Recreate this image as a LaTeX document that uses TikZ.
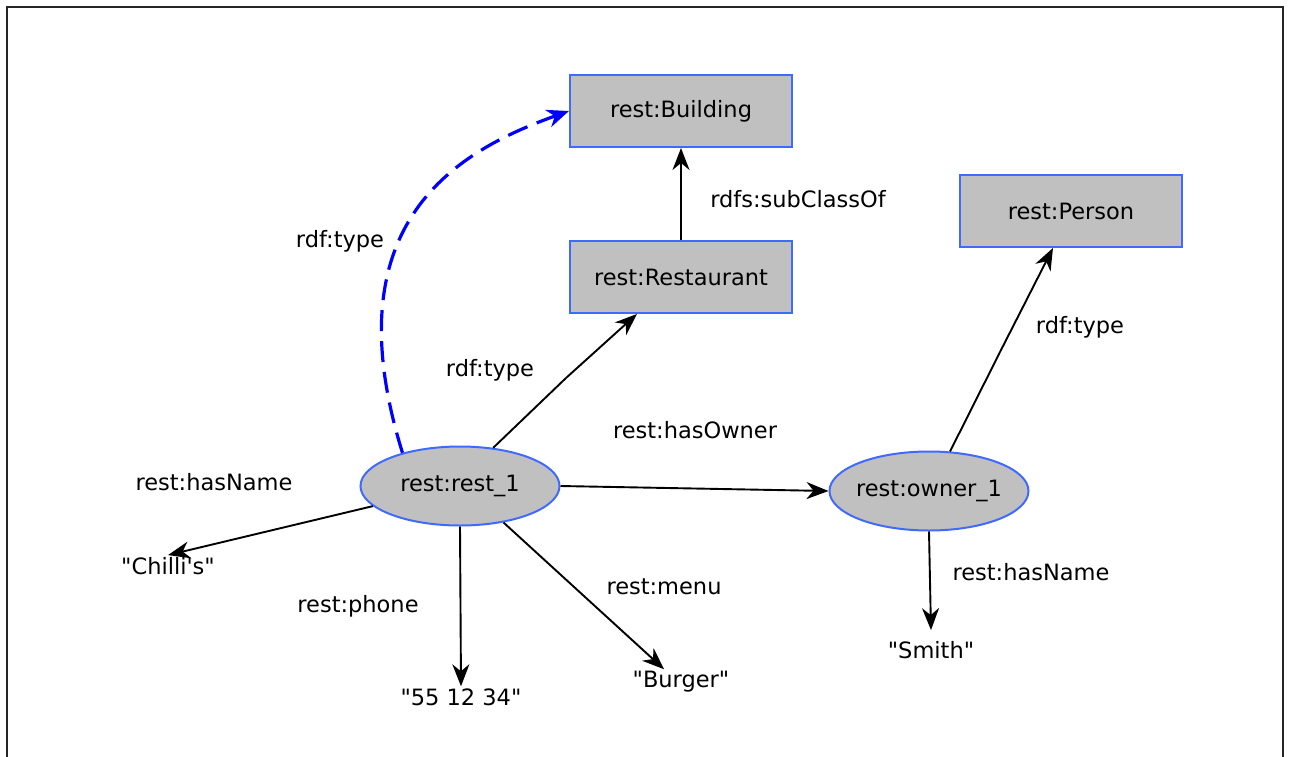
\documentclass[tikz,border=0pt]{standalone}
\usepackage{fontspec}
\setmainfont{DejaVu Sans}
\usetikzlibrary{shapes.geometric,arrows.meta}
\definecolor{nodegray}{RGB}{192,192,192}
\definecolor{nodeblue}{RGB}{64,106,255}
\tikzset{
  classbox/.style={draw=nodeblue, fill=nodegray, line width=2pt, minimum width=222pt, minimum height=72pt, inner sep=0pt},
  instnode/.style={ellipse, draw=nodeblue, fill=nodegray, line width=2pt, minimum width=199pt, minimum height=79pt, inner xsep=-26pt, inner ysep=0pt},
  literal/.style={inner sep=2pt},
  edgelabel/.style={inner sep=0pt},
  rel/.style={line width=1.9pt, -{Stealth[length=22pt,width=17pt,inset=7pt]}},
}
\begin{document}
\begin{tikzpicture}[x=1pt, y=-1pt, font=\fontsize{22.5}{27}\selectfont]
 	\useasboundingbox (0,0) rectangle (1291,756);
 	\draw [line width=2.2pt, black!85] (7,7) rectangle (1283,790);

 	% classes
 	\node [classbox] (building) at (681,111) {rest:Building};
 	\node [classbox] (restaurant) at (681,277) {rest:Restaurant};
 	\node [classbox] (person) at (1071,211) {rest:Person};

 	% instances
 	\node [instnode] (rest1) at (460,486) {rest:rest\_1};
 	\node [instnode] (owner1) at (929,491) {rest:owner\_1};

 	% literals
 	\node [literal] (chilli) at (168,566) {\textquotedbl Chilli\textquotesingle s\textquotedbl};
 	\node [literal] (phone) at (461,697) {\textquotedbl 55 12 34\textquotedbl};
 	\node [literal] (burger) at (681,682) {\textquotedbl Burger\textquotedbl};
 	\node [literal, inner ysep=11pt] (smith) at (931,650) {\textquotedbl Smith\textquotedbl};

 	\coordinate (bendrest) at (566,378);
 	\coordinate (bendowner) at (1000,352);

 	\draw [rel] (restaurant.north) -- (building.south);
 	\draw [rel, -] (rest1.49) -- (bendrest);
 	\draw [rel] (bendrest) -- (restaurant.-140);
 	\draw [rel] (rest1.east) -- (owner1.west);
 	\draw [rel, -] (owner1.62) -- (bendowner);
 	\draw [rel] (bendowner) -- (person.-116);
 	\draw [rel] (rest1.-167) -- (chilli.north);
 	\draw [rel] (rest1.south) -- (phone.north);
 	\draw [rel] (rest1.-40) -- (burger.143);
 	\draw [rel] (owner1.south) -- (smith.north);

 	% inferred type
 	\draw [line width=3.2pt, blue, dash pattern=on 21pt off 10pt, -{Stealth[length=22pt,width=18pt,inset=7pt]}]
 		(rest1.150) .. controls (330,220) and (460,150) .. (building.west);

 	% labels
 	\node [edgelabel] (lbltype1) at (340,241) {rdf:type};
 	\node [edgelabel] (lblsub) at (798,199) {rdfs:subClassOf};
 	\node [edgelabel] (lbltype2) at (490,370) {rdf:type};
 	\node [edgelabel] (lblowner) at (695,430) {rest:hasOwner};
 	\node [edgelabel] (lbltype3) at (1080,327) {rdf:type};
 	\node [edgelabel] (lblname1) at (214,482) {rest:hasName};
 	\node [edgelabel] (lblphone) at (358,606) {rest:phone};
 	\node [edgelabel] (lblmenu) at (664,587) {rest:menu};
 	\node [edgelabel] (lblname2) at (1031,572) {rest:hasName};
\end{tikzpicture}
\end{document}
